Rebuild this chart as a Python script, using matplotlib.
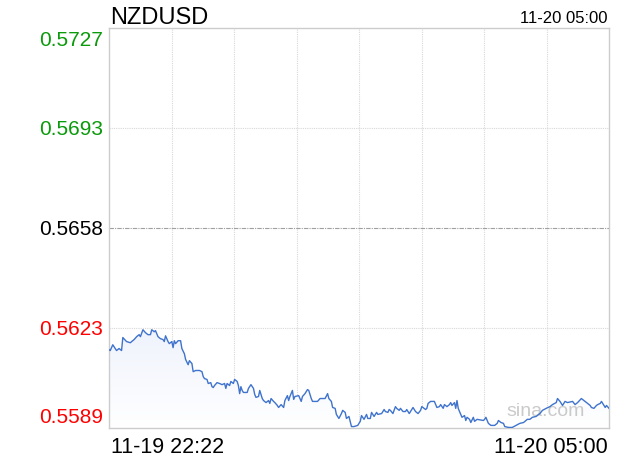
import numpy as np
import matplotlib.pyplot as plt
from matplotlib.colors import LinearSegmentedColormap

plt.rcParams['font.family'] = ['Liberation Sans', 'DejaVu Sans']

### chart data
symbol = 'NZDUSD'
start_label = '11-19 22:22'
end_label = '11-20 05:00'
prev_close = 0.5658
half_range = 0.00692
total_minutes = 398

# minutes after 22:22
minutes = [0, 1, 3, 5, 6, 8, 10, 11, 14, 17, 18, 20, 22, 24, 25, 27, 29, 31, 33, 34,
           36, 37, 39, 41, 43, 44, 45, 47, 48, 50, 51, 52, 53, 55, 57, 58, 60, 61, 63, 64,
           66, 67, 69, 72, 74, 75, 76, 78, 79, 81, 82, 83, 84, 86, 88, 90, 92, 93, 94, 96,
           97, 99, 100, 102, 103, 104, 105, 106, 107, 110, 111, 113, 115, 116, 117, 119, 120, 122, 123, 125,
           127, 128, 129, 131, 132, 134, 135, 137, 139, 140, 142, 143, 144, 146, 147, 148, 151, 153, 154, 156,
           158, 159, 161, 162, 166, 168, 172, 174, 175, 177, 178, 180, 181, 183, 185, 186, 188, 189, 191, 192,
           193, 195, 198, 200, 201, 203, 205, 206, 208, 209, 211, 213, 214, 217, 219, 220, 222, 223, 224, 226,
           228, 229, 231, 232, 234, 236, 237, 239, 240, 242, 244, 246, 248, 249, 252, 253, 254, 256, 259, 261,
           263, 264, 266, 267, 269, 271, 272, 273, 275, 276, 277, 278, 279, 281, 283, 284, 285, 287, 288, 290,
           291, 293, 298, 299, 300, 301, 302, 304, 307, 309, 310, 312, 314, 315, 318, 321, 324, 327, 330, 333,
           335, 337, 340, 343, 345, 348, 351, 353, 356, 357, 359, 361, 363, 365, 369, 371, 373, 376, 379, 381,
           383, 384, 386, 388, 389, 391, 392, 395, 396, 398]

prices = [0.56159, 0.56156, 0.56176, 0.56163, 0.56156, 0.56163, 0.56156, 0.56201, 0.56187, 0.56183,
          0.56187, 0.56194, 0.56204, 0.56211, 0.56204, 0.56228, 0.56218, 0.56211, 0.56211, 0.56228,
          0.56221, 0.56225, 0.56204, 0.56197, 0.56194, 0.56187, 0.56207, 0.56187, 0.56180, 0.56187,
          0.56166, 0.56190, 0.56180, 0.56190, 0.56190, 0.56163, 0.56145, 0.56125, 0.56107, 0.56121,
          0.56111, 0.56083, 0.56087, 0.56087, 0.56083, 0.56066, 0.56059, 0.56056, 0.56042, 0.56045,
          0.56031, 0.56028, 0.56035, 0.56045, 0.56042, 0.56038, 0.56042, 0.56025, 0.56042, 0.56035,
          0.56049, 0.56042, 0.56056, 0.56049, 0.56035, 0.56007, 0.56031, 0.56018, 0.56011, 0.56011,
          0.56025, 0.56038, 0.56025, 0.56004, 0.55994, 0.55997, 0.56018, 0.55990, 0.55983, 0.55976,
          0.55983, 0.55973, 0.55990, 0.55980, 0.55976, 0.55966, 0.55959, 0.55969, 0.55959, 0.55983,
          0.56000, 0.55983, 0.55997, 0.56018, 0.55987, 0.55997, 0.56000, 0.55980, 0.55997, 0.56007,
          0.56021, 0.56018, 0.55990, 0.55980, 0.55980, 0.55990, 0.55990, 0.56007, 0.55990, 0.55980,
          0.55959, 0.55956, 0.55935, 0.55921, 0.55938, 0.55949, 0.55942, 0.55921, 0.55928, 0.55911,
          0.55893, 0.55893, 0.55897, 0.55911, 0.55931, 0.55918, 0.55935, 0.55921, 0.55921, 0.55942,
          0.55928, 0.55942, 0.55935, 0.55938, 0.55952, 0.55945, 0.55942, 0.55952, 0.55949, 0.55938,
          0.55962, 0.55956, 0.55949, 0.55956, 0.55945, 0.55945, 0.55952, 0.55938, 0.55945, 0.55959,
          0.55945, 0.55938, 0.55949, 0.55962, 0.55952, 0.55956, 0.55973, 0.55980, 0.55980, 0.55959,
          0.55962, 0.55969, 0.55956, 0.55969, 0.55962, 0.55969, 0.55976, 0.55966, 0.55976, 0.55956,
          0.55983, 0.55956, 0.55945, 0.55925, 0.55931, 0.55914, 0.55925, 0.55918, 0.55907, 0.55925,
          0.55911, 0.55918, 0.55914, 0.55918, 0.55925, 0.55914, 0.55904, 0.55897, 0.55897, 0.55904,
          0.55914, 0.55907, 0.55904, 0.55893, 0.55890, 0.55890, 0.55897, 0.55904, 0.55907, 0.55918,
          0.55918, 0.55925, 0.55928, 0.55938, 0.55949, 0.55956, 0.55962, 0.55969, 0.55976, 0.55990,
          0.55980, 0.55966, 0.55980, 0.55976, 0.55980, 0.55969, 0.55976, 0.55990, 0.55980, 0.55973,
          0.55966, 0.55959, 0.55956, 0.55966, 0.55969, 0.55973, 0.55980, 0.55959, 0.55966, 0.55956]

W, H = 620, 460
fig = plt.figure(figsize=(W / 100, H / 100), dpi=100)
ax = fig.add_axes([109 / W, 31 / H, 500 / W, 400 / H])

ymin = prev_close - half_range
ymax = prev_close + half_range
ax.set_xlim(0, total_minutes)
ax.set_ylim(ymin, ymax)

# grid
levels = np.linspace(ymin, ymax, 5)
for xv in np.linspace(0, total_minutes, 9)[1:-1]:
    ax.axvline(xv, color='#d8d8d8', lw=0.8, ls=(0, (1, 1)), zorder=1)
for lv in levels[1:-1]:
    if abs(lv - prev_close) < 1e-9:
        ax.axhline(lv, color='#a0a0a0', lw=0.8, ls=(0, (4, 1, 1, 1)), zorder=1)
    else:
        ax.axhline(lv, color='#d8d8d8', lw=0.8, ls=(0, (1, 1)), zorder=1)

# gradient under the line
x = np.array(minutes)
y = np.array(prices)
poly = ax.fill_between(x, y, ymin, color='none', lw=0)
cmap = LinearSegmentedColormap.from_list('fade', ['#ffffff', '#eff3fc'])
grad = np.linspace(0, 1, 256).reshape(-1, 1)
img = ax.imshow(grad, cmap=cmap, aspect='auto', origin='lower',
                extent=(0, total_minutes, ymin, y.max()), zorder=2)
img.set_clip_path(poly.get_paths()[0], transform=ax.transData)
ax.set_xlim(0, total_minutes)
ax.set_ylim(ymin, ymax)

ax.text(0.794, 0.0325, 'sina.com', transform=ax.transAxes, fontsize=14,
        color='#cacaca', zorder=3)

ax.plot(x, y, color='#3f73cc', lw=1.0, zorder=4)

for s in ax.spines.values():
    s.set_color('#cccccc')
    s.set_linewidth(1.0)
ax.set_xticks([])
ax.set_yticks([])

# price labels
for i, lv in enumerate(levels):
    if lv > prev_close + 1e-9:
        c = '#0a9a0a'
    elif lv < prev_close - 1e-9:
        c = '#ff0000'
    else:
        c = 'black'
    va = 'center'
    yy = lv
    if i == 0:
        va = 'bottom'
        yy = lv + 0.00008
    elif i == len(levels) - 1:
        va = 'top'
        yy = lv - 0.00006
    ax.text(-0.012, yy, '%.4f' % lv, transform=ax.get_yaxis_transform(),
            ha='right', va=va, fontsize=15, color=c)

fig.text(110 / W, 1 - 24 / H, symbol, fontsize=17, va='baseline', ha='left')
fig.text(608 / W, 1 - 23 / H, end_label, fontsize=12, va='baseline', ha='right')
fig.text(111 / W, 1 - 453 / H, start_label, fontsize=15.5, va='baseline', ha='left')
fig.text(608 / W, 1 - 453 / H, end_label, fontsize=15.5, va='baseline', ha='right')

fig.savefig('out.png', dpi=100)
